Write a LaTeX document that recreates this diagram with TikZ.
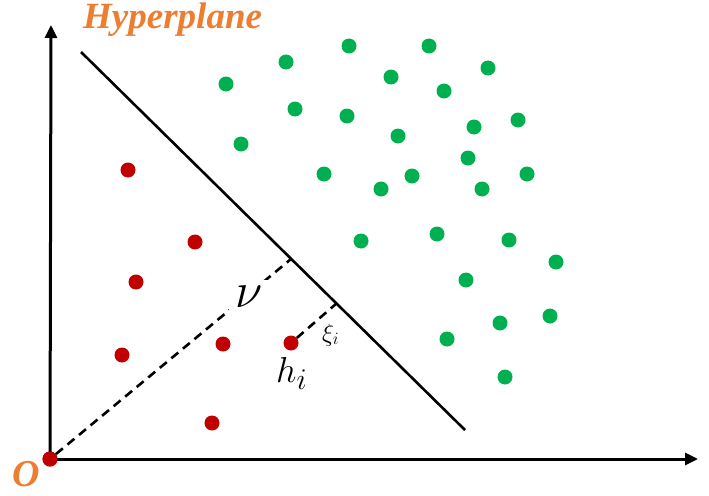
\documentclass[tikz,border=0pt]{standalone}
\usepackage{fontspec}
\newfontfamily\lserif{Liberation Serif}
\usetikzlibrary{arrows.meta}
\definecolor{dotred}{RGB}{192,0,0}
\definecolor{dotgreen}{RGB}{0,176,80}
\definecolor{labelorange}{RGB}{237,125,49}
\begin{document}
\begin{tikzpicture}[x=1pt,y=-1pt,
  reddot/.style={circle,fill=dotred,inner sep=0pt,minimum size=15pt},
  greendot/.style={circle,fill=dotgreen,inner sep=0pt,minimum size=15pt},
  axis/.style={line width=3pt,-{Triangle[length=13pt,width=12pt]}},
  hyper/.style={line width=2.6pt},
  margin/.style={line width=2.6pt,dash pattern=on 9pt off 6pt},
  orangelabel/.style={text=labelorange,inner sep=0pt,anchor=base west},
  mathlabel/.style={inner sep=0pt,anchor=base west}]
\useasboundingbox (0,0) rectangle (709,495);
% axes
\coordinate (yend) at (51,25);
\coordinate (xend) at (698,459);
\node[reddot] (o) at (50,459) {};
\draw[axis] (o.center) -- (yend);
\draw[axis] (o.center) -- (xend);
\node[reddot] at (50,459) {};
% hyperplane
\coordinate (hp1) at (81,52);
\coordinate (hp2) at (465,430);
\draw[hyper] (hp1) -- (hp2);
\coordinate (f1) at (291,259);
\coordinate (f2) at (337,303);
% red dots
\node[reddot] (r1) at (128,170) {};
\node[reddot] (r2) at (195,242) {};
\node[reddot] (r3) at (136,282) {};
\node[reddot] (r4) at (122,355) {};
\node[reddot] (r5) at (223,344) {};
\node[reddot] (h) at (291,343) {};
\node[reddot] (r7) at (212,423) {};
% dashed margins
\draw[margin] (o) -- (f1);
\draw[margin] (h) -- (f2);
% green dots
\foreach \i/\p in {1/{(349,46)},2/{(429,46)},3/{(286,62)},4/{(488,68)},5/{(391,77)},
  6/{(226,84)},7/{(444,91)},8/{(295,109)},9/{(347,116)},10/{(518,120)},
  11/{(474,127)},12/{(241,144)},13/{(398,136)},14/{(468,158)},15/{(324,174)},
  16/{(412,176)},17/{(381,189)},18/{(482,189)},19/{(527,174)},20/{(361,241)},
  21/{(437,234)},22/{(509,240)},23/{(556,262)},24/{(466,280)},25/{(550,316)},
  26/{(500,323)},27/{(447,339)},28/{(505,377)}}
  \node[greendot] (g\i) at \p {};
% labels
\node[orangelabel,font=\fontsize{37}{40}\selectfont\lserif\bfseries\itshape] (title) at (83,29) {Hyperplane};
\node[orangelabel,font=\fontsize{38}{40}\selectfont\lserif\bfseries\itshape] (olabel) at (12,486) {O};
\node[fill=white,inner xsep=5pt,inner ysep=6pt,minimum width=40pt,font=\fontsize{24.88}{26}\selectfont] (nu) at (249,297) {\scalebox{2}{$\nu$}};
\node[mathlabel,font=\fontsize{24.88}{26}\selectfont] (hl) at (276,382) {\scalebox{1.45}{$h_i$}};
\node[mathlabel,font=\fontsize{20.74}{22}\selectfont] (xi) at (322,341) {\scalebox{1.2}{$\xi_i$}};
\end{tikzpicture}
\end{document}
